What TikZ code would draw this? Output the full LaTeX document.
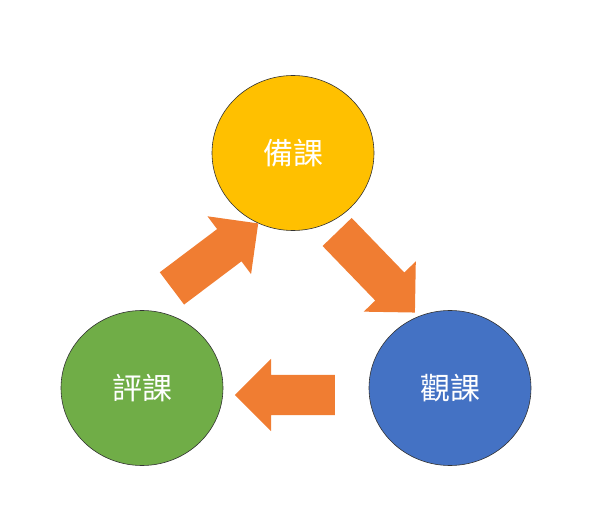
\documentclass[tikz,border=0pt]{standalone}
\usepackage{fontspec}
\newfontfamily\cjk{Noto Sans CJK TC}
\usetikzlibrary{shapes.arrows,shapes.geometric}
\definecolor{arrc}{RGB}{240,125,50}
\begin{document}
\begin{tikzpicture}[x=1pt,y=-1pt,
  circ/.style={draw=black!80,line width=0.6pt,ellipse,minimum width=162pt,minimum height=155pt,font=\cjk\fontsize{30}{36}\selectfont,text=white},
  arr/.style={single arrow,draw=none,inner sep=20pt,single arrow head extend=16pt,fill=arrc}]
\useasboundingbox (0,0) rectangle (603,524);
\node[circ,fill={rgb,255:red,255;green,192;blue,0}] (prep) at (293,153) {備課};
\node[circ,fill={rgb,255:red,112;green,173;blue,71}] (eval) at (142,388) {評課};
\node[circ,fill={rgb,255:red,68;green,114;blue,196}] (obs) at (450,388) {觀課};
\node[arr,minimum height=108pt,rotate=37] (a1) at (207,262) {};
\node[arr,minimum height=112pt,rotate=-46] (a2) at (369,265) {};
\node[arr,minimum height=100pt,rotate=180] (a3) at (295,395) {};
\end{tikzpicture}
\end{document}
